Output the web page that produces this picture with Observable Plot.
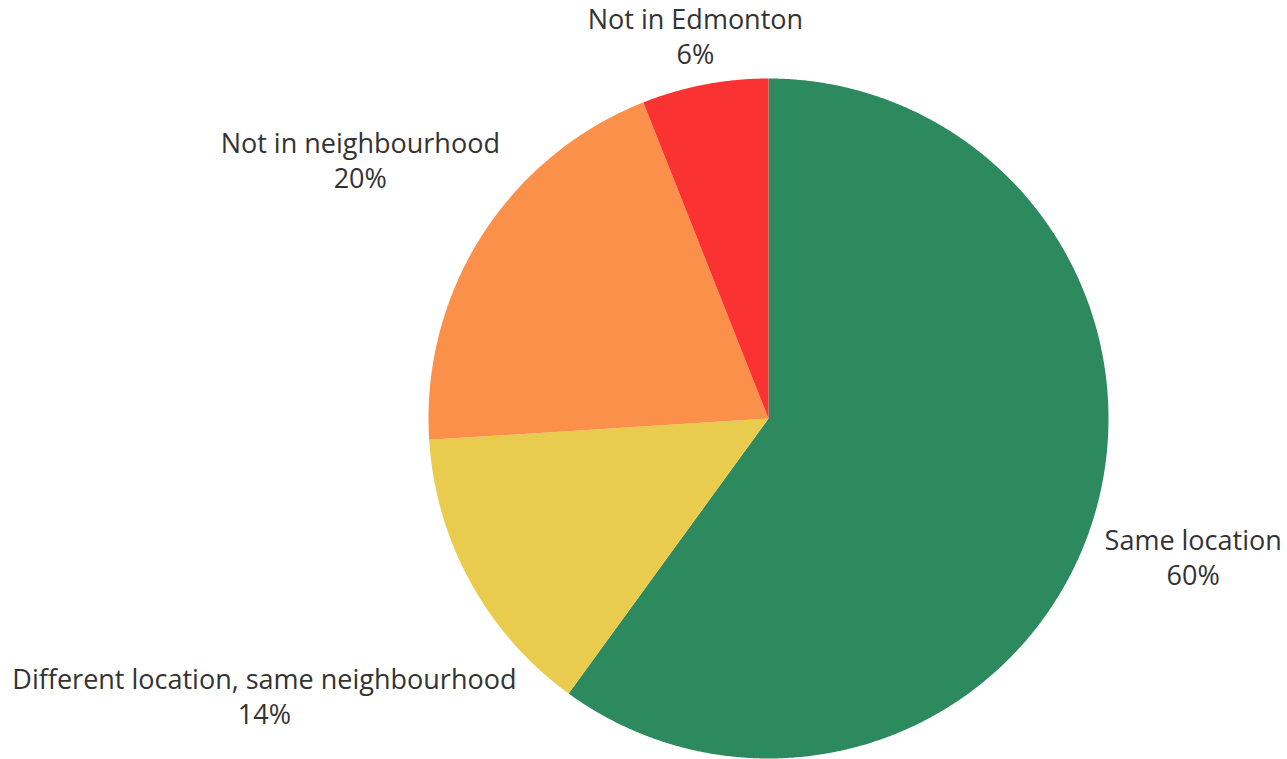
<!DOCTYPE html>
<html><head><meta charset="utf-8">
<script src="https://cdn.jsdelivr.net/npm/d3@7"></script>
<script src="https://cdn.jsdelivr.net/npm/@observablehq/plot@0.6"></script>
<style>body{margin:0;background:#fff;}</style>
</head><body><div id="chart"></div>
<script>
// Data
const categories = ["Same location", "Different location, same neighbourhood", "Not in neighbourhood", "Not in Edmonton"];
const shares = [60, 14, 20, 6];
const valueLabels = ["60%", "14%", "20%", "6%"];
const colors = ["#2d8a5f", "#e9cb4d", "#fa9049", "#fb3232"];

// Layout
const W = 1287, H = 759;
const ml = 428, mr = 179, mt = 78, mb = 1;
const Rpx = (W - ml - mr) / 2;
const fontSize = 27, lineH = 35;
const fontFamily = '"Open Sans", sans-serif';

const pie = d3.pie().sort(null).value(d => d.share)(
  categories.map((c, i) => ({category: c, share: shares[i], label: valueLabels[i]}))
);

const poly = [];
for (const a of pie) {
  const n = Math.max(2, Math.ceil((a.endAngle - a.startAngle) / 0.005));
  poly.push({category: a.data.category, x: 0, y: 0});
  for (let k = 0; k <= n; k++) {
    const t = a.startAngle + (a.endAngle - a.startAngle) * k / n;
    poly.push({category: a.data.category, x: Math.sin(t), y: Math.cos(t)});
  }
}

const ctx = document.createElement("canvas").getContext("2d");
ctx.font = `${fontSize}px ${fontFamily}`;
const gap = 13;
const labels = pie.map(a => {
  const mid = (a.startAngle + a.endAngle) / 2;
  const dx = Math.sin(mid), dy = Math.cos(mid);
  const w = Math.max(ctx.measureText(a.data.category).width, ctx.measureText(a.data.label).width);
  const hw = w / 2, hh = 30;
  const near = t => {
    const cx = t * dx, cy = t * dy;
    const nx = Math.max(0, Math.abs(cx) - hw), ny = Math.max(0, Math.abs(cy) - hh);
    return Math.hypot(nx, ny);
  };
  let lo = Rpx * 0.5, hi = Rpx * 3;
  for (let i = 0; i < 60; i++) { const m = (lo + hi) / 2; if (near(m) < Rpx + gap) lo = m; else hi = m; }
  return {text: a.data.category + "\n" + a.data.label, x: lo * dx / Rpx, y: lo * dy / Rpx};
});

const chart = Plot.plot({
  width: W, height: H,
  marginLeft: ml, marginRight: mr, marginTop: mt, marginBottom: mb,
  x: {domain: [-1, 1], axis: null},
  y: {domain: [-1, 1], axis: null},
  color: {domain: categories, range: colors},
  style: {fontFamily, background: "#fff", overflow: "visible"},
  marks: [
    Plot.line(poly, {x: "x", y: "y", z: "category", fill: "category", stroke: "none"}),
    Plot.text(labels, {x: "x", y: "y", text: "text", fontSize, lineHeight: lineH / fontSize,
      fill: "#333", textAnchor: "middle", lineAnchor: "middle"})
  ]
});
document.getElementById("chart").append(chart);
</script>
</body></html>
